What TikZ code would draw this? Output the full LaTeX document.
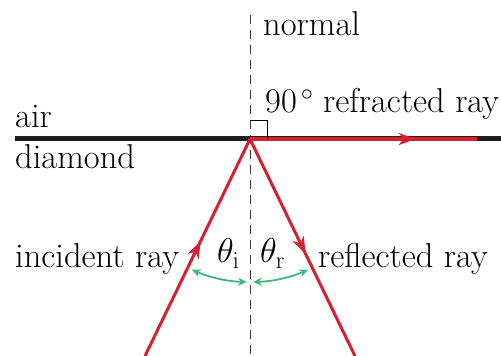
\RequirePackage{fix-cm}
\documentclass[tikz,border=0pt]{standalone}
\usetikzlibrary{arrows.meta,decorations.markings}
\definecolor{rayred}{HTML}{D42030}
\definecolor{anggreen}{HTML}{3DB87A}
\definecolor{normgray}{HTML}{3A3A3A}
\begin{document}
\begin{tikzpicture}[x=1pt,y=1pt,
  lbl/.style={anchor=base west,inner sep=0pt,font=\fontsize{34.5}{40}\selectfont},
  ray/.style={rayred,line width=3pt},
  midarrow/.style={postaction={decorate},decoration={markings,mark=at position #1 with {\arrow{Stealth[length=17pt,width=12pt,inset=5pt]}}}},
  normline/.style={normgray,line width=1.6pt,dash pattern=on 9pt off 6pt},
  angarrow/.style={anggreen,line width=1.8pt,{Stealth[length=9pt,width=8pt]}-{Stealth[length=9pt,width=8pt]}}
]
\useasboundingbox (0,0) rectangle (501,356);
\coordinate (O) at (250,217);
\coordinate (L) at (15,217);
\coordinate (R) at (501,217);
\coordinate (Rr) at (477,217);
\coordinate (Bi) at (145,0);
\coordinate (Br) at (355,0);
\coordinate (N1) at (250.5,341);
\coordinate (N2) at (250.5,0);
\coordinate (S1) at (250,235);
\coordinate (S2) at (267,235);
\coordinate (S3) at (267,217);
% normal
\draw[normline] (N1) -- (N2);
% interface
\draw[line width=5pt,black!88] (L) -- (R);
\draw[rayred,line width=4.5pt,midarrow=0.73] (O) -- (Rr);
% right angle mark
\draw[black,line width=1pt] (S1) -- (S2) -- (S3);
% rays
\draw[ray,midarrow=0.53,line join=miter] (Bi) -- (O);
\draw[ray,midarrow=0.53] (O) -- (Br);
% angle arcs
\draw[angarrow] ([shift={(246:143)}]O) arc[start angle=246,end angle=268.8,radius=143];
\draw[angarrow] ([shift={(271.2:143)}]O) arc[start angle=271.2,end angle=294,radius=143];
% labels
\node[lbl] (normal) at (263,320) {normal};
\node[lbl] (deg) at (265,243) {$90^{\,\circ}$};
\node[lbl] (refr) at (323,243) {refracted ray};
\node[lbl] (air) at (15,228) {air};
\node[lbl] (dia) at (15,187) {diamond};
\node[lbl] (inc) at (15,88) {incident ray};
\node[lbl] (refl) at (318,88) {reflected ray};
\node[lbl] (thi) at (217,93) {$\theta_{\mathrm{i}}$};
\node[lbl] (thr) at (260,93) {$\theta_{\mathrm{r}}$};
\end{tikzpicture}
\end{document}
